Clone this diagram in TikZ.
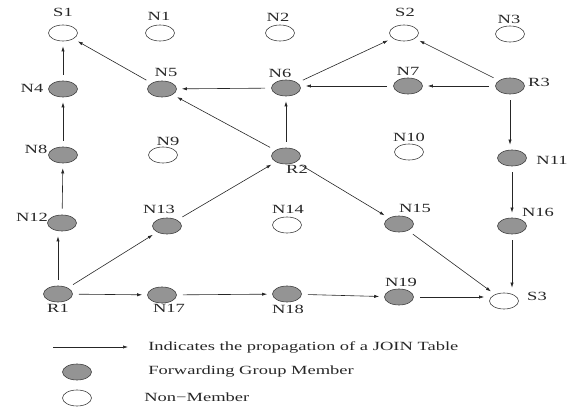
\documentclass[tikz,border=0pt]{standalone}
\usepackage{fontspec}
\setmainfont{Liberation Serif}[FakeStretch=1.48]
\usetikzlibrary{arrows.meta,shapes.geometric}
\tikzset{
    member/.style = {
        draw = black!75,
        ellipse,
        fill = black!42,
        minimum width=29pt,
        minimum height=16pt,
        inner sep=0pt,
        },
    non member/.style = {
        member,
        fill = white,
        },
    join edge/.style = {
        draw = black!85,
        line width=0.6pt,
        -{Latex[length=5pt,width=3.2pt]},
        shorten >=5pt,
        shorten <=6pt,
        },
    lbl/.style = {
        font=\fontsize{12.5}{14}\selectfont,
        text=black!85,
        inner sep=0pt,
        },
}

\begin{document}
\begin{tikzpicture}[x=1pt,y=-1pt,line width=0.6pt]
    \useasboundingbox (0,0) rectangle (575,411);

    % group nodes
    \node[non member] (S1) at (63,33) {};
    \node[non member] (N1) at (160,33) {};
    \node[non member] (N2) at (280,33) {};
    \node[non member] (S2) at (404,33) {};
    \node[non member] (N3) at (510,34) {};
    \node[member] (N4) at (63,89) {};
    \node[member] (N5) at (162,89) {};
    \node[member] (N6) at (286,88) {};
    \node[member] (N7) at (408,86) {};
    \node[member] (R3) at (510,86) {};
    \node[member] (N8) at (63,155) {};
    \node[non member] (N9) at (163,155) {};
    \node[member] (R2) at (286,156) {};
    \node[non member] (N10) at (409,152) {};
    \node[member] (N11) at (512,158) {};
    \node[member] (N12) at (62,223) {};
    \node[member] (N13) at (167,226) {};
    \node[non member] (N14) at (287,225) {};
    \node[member] (N15) at (399,224) {};
    \node[member] (N16) at (512,226) {};
    \node[member] (R1) at (58,294) {};
    \node[member] (N17) at (162,295) {};
    \node[member] (N18) at (287,294) {};
    \node[member] (N19) at (399,297) {};
    \node[non member] (S3) at (504,301) {};

    % names
    \node[lbl] (lS1) at (63,12.5) {S1};
    \node[lbl] (lN1) at (159,16) {N1};
    \node[lbl] (lN2) at (278,17.5) {N2};
    \node[lbl] (lS2) at (405,12.5) {S2};
    \node[lbl] (lN3) at (509,19) {N3};
    \node[lbl] (lN4) at (32,88) {N4};
    \node[lbl] (lN5) at (166,72) {N5};
    \node[lbl] (lN6) at (280,73) {N6};
    \node[lbl] (lN7) at (408,71) {N7};
    \node[lbl] (lR3) at (539,82) {R3};
    \node[lbl] (lN8) at (36,149) {N8};
    \node[lbl] (lN9) at (168,141) {N9};
    \node[lbl] (lR2) at (297,169.5) {R2};
    \node[lbl] (lN10) at (409,137.5) {N10};
    \node[lbl] (lN11) at (552,160) {N11};
    \node[lbl] (lN12) at (32,217) {N12};
    \node[lbl] (lN13) at (159,209) {N13};
    \node[lbl] (lN14) at (288,209) {N14};
    \node[lbl] (lN15) at (415,208) {N15};
    \node[lbl] (lN16) at (538,212) {N16};
    \node[lbl] (lR1) at (58,308) {R1};
    \node[lbl] (lN17) at (169,308) {N17};
    \node[lbl] (lN18) at (288,309) {N18};
    \node[lbl] (lN19) at (401,282) {N19};
    \node[lbl] (lS3) at (537,296) {S3};

    % JOIN Table propagation
    \draw[join edge] (R1) -- (R1 |- N12.south);
    \draw[join edge] (N12) -- (N8);
    \draw[join edge] (N8) -- (N4);
    \draw[join edge] (N4) -- (S1);
    \draw[join edge] (R1) -- (N13);
    \draw[join edge] (R1) -- (N17);
    \draw[join edge] (N17) -- (N18);
    \draw[join edge] (N18) -- (N19);
    \draw[join edge] (N19) -- (N19 -| S3.west);
    \draw[join edge] (N13) -- (R2);
    \draw[join edge] (R2) -- (N6);
    \draw[join edge] (R2) -- (N5);
    \draw[join edge] (R2) -- (N15);
    \draw[join edge] (N15) -- (S3);
    \draw[join edge] (N5) -- (S1);
    \draw[join edge] (N6) -- (N5);
    \draw[join edge] (N6) -- (S2);
    \draw[join edge] (N7) -- (N7 -| N6.east);
    \draw[join edge] (R3) -- (N7);
    \draw[join edge] (R3) -- (S2);
    \draw[join edge] (R3) -- (R3 |- N11.north);
    \draw[join edge] (N11) -- (N16);
    \draw[join edge] (N16) -- (N16 |- S3.north);

    % key
    \coordinate (keyA) at (53,347);
    \coordinate (keyB) at (128,347);
    \draw[join edge, shorten >=0pt, shorten <=0pt] (keyA) -- (keyB);
    \node[lbl, anchor=west] (keyArrow) at (148,347) {Indicates the propagation of a JOIN Table};
    \node[member] (keyM) at (77,372) {};
    \node[lbl, anchor=west] (keyMember) at (148,372) {Forwarding Group Member};
    \node[non member] (keyN) at (77,398) {};
    \node[lbl, anchor=west] (keyNon) at (144,397) {Non−Member};
\end{tikzpicture}
\end{document}
